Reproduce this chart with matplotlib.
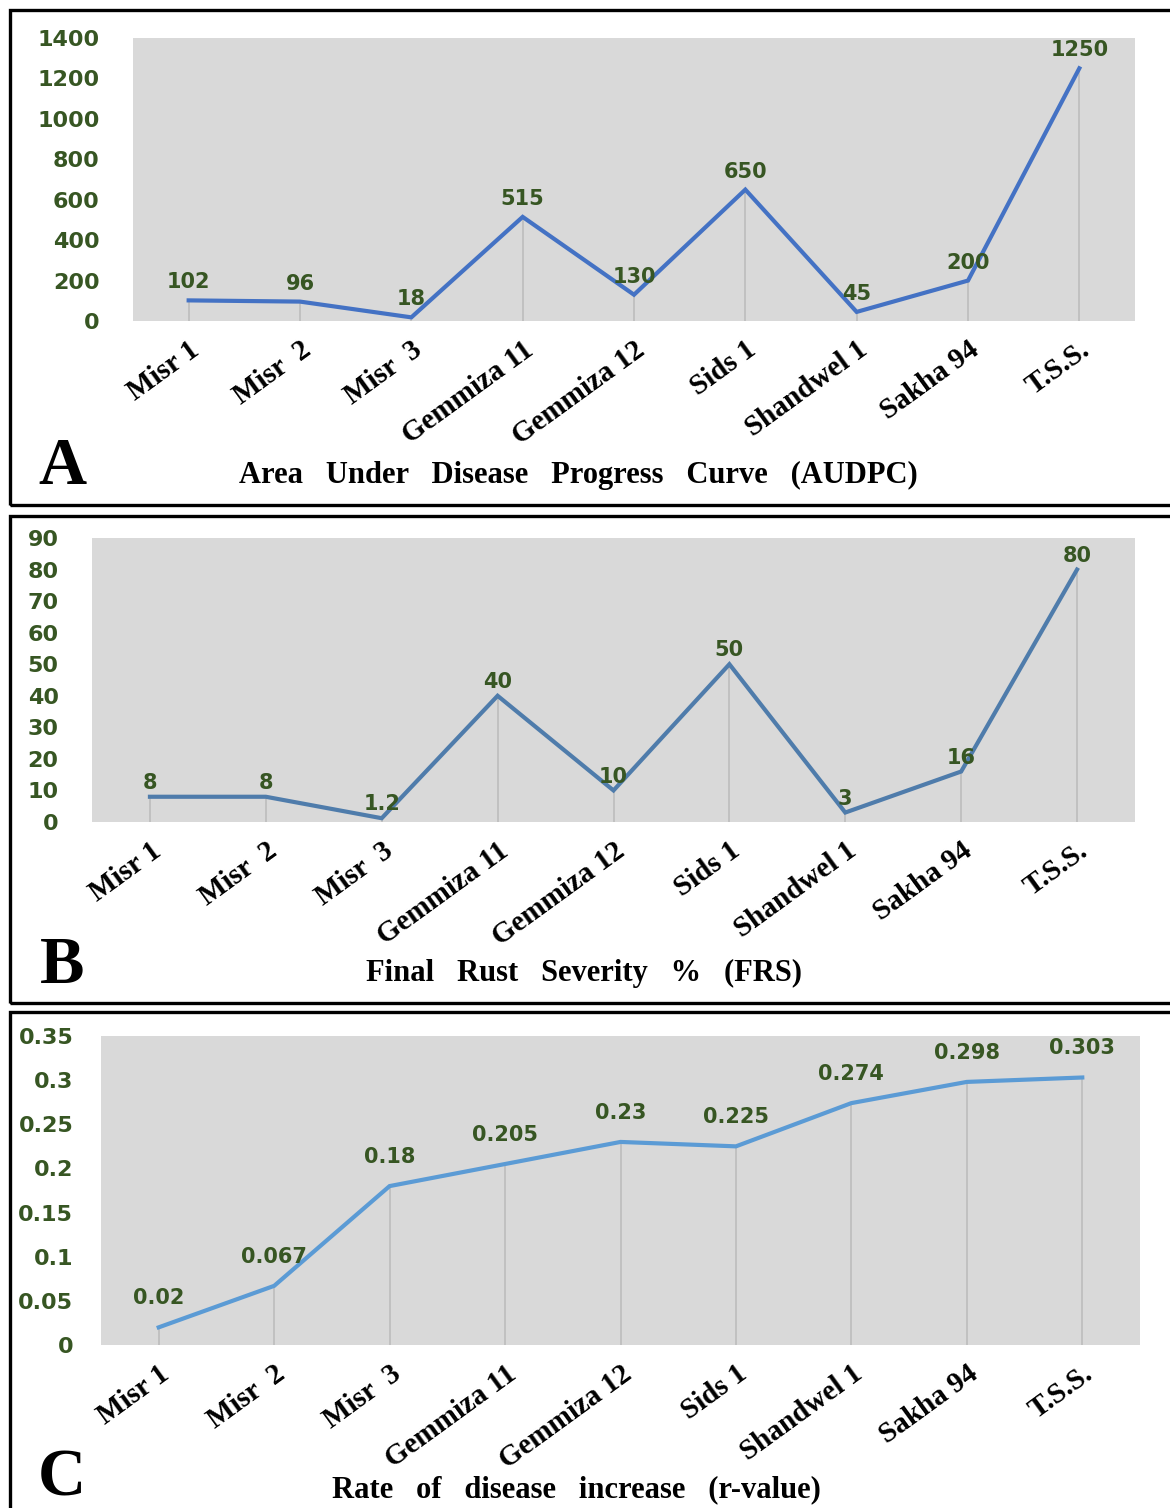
import matplotlib
matplotlib.use("Agg")
import matplotlib.pyplot as plt
from matplotlib.patches import Rectangle

W, H = 1170, 1508

cultivars = ["Misr 1", "Misr  2", "Misr  3", "Gemmiza 11", "Gemmiza 12",
             "Sids 1", "Shandwel 1", "Sakha 94", "T.S.S."]

audpc = [102, 96, 18, 515, 130, 650, 45, 200, 1250]
audpc_labels = ["102", "96", "18", "515", "130", "650", "45", "200", "1250"]
audpc_ticks = [0, 200, 400, 600, 800, 1000, 1200, 1400]

frs = [8, 8, 1.2, 40, 10, 50, 3, 16, 80]
frs_labels = ["8", "8", "1.2", "40", "10", "50", "3", "16", "80"]
frs_ticks = [0, 10, 20, 30, 40, 50, 60, 70, 80, 90]

rval = [0.02, 0.067, 0.18, 0.205, 0.23, 0.225, 0.274, 0.298, 0.303]
rval_labels = ["0.02", "0.067", "0.18", "0.205", "0.23", "0.225", "0.274", "0.298", "0.303"]
rval_ticks = [0, 0.05, 0.1, 0.15, 0.2, 0.25, 0.3, 0.35]
rval_tick_labels = ["0", "0.05", "0.1", "0.15", "0.2", "0.25", "0.3", "0.35"]

GREEN = "#375623"
GRAY_BG = "#d9d9d9"
SERIF = ["Liberation Serif", "DejaVu Serif"]


def px_axes(fig, left, top, right, bottom):
    return fig.add_axes([left / W, 1 - bottom / H, (right - left) / W, (bottom - top) / H])


def panel(fig, box, values, labels, ticks, tick_labels, ymax, color, lab_off, ypad):
    ax = px_axes(fig, *box)
    x = list(range(len(values)))
    ax.set_facecolor(GRAY_BG)
    ax.vlines(x, 0, values, color="#bfbfbf", lw=1.3, zorder=1)
    ax.plot(x, values, color=color, lw=3.0, solid_joinstyle="miter", zorder=2)
    for xi, v, t in zip(x, values, labels):
        ax.annotate(t, (xi, v), xytext=(0, lab_off), textcoords="offset points",
                    ha="center", va="center", color=GREEN, fontsize=15,
                    fontweight="bold", family="DejaVu Sans", zorder=3)
    ax.set_xlim(-0.5, len(values) - 0.5)
    ax.set_ylim(0, ymax)
    ax.set_yticks(ticks)
    ax.set_yticklabels(tick_labels, color=GREEN, fontsize=16, fontweight="bold")
    ax.set_xticks(x)
    ax.set_xticklabels(cultivars, family=SERIF, fontweight="bold", fontsize=21)
    plt.setp(ax.get_xticklabels(), rotation=36, ha="right", rotation_mode="anchor")
    ax.tick_params(axis="x", length=0, pad=11)
    ax.tick_params(axis="y", length=0, pad=ypad)
    for s in ax.spines.values():
        s.set_visible(False)
    return ax


fig = plt.figure(figsize=(W / 100, H / 100), dpi=100)

# panel frames
for top, bottom in [(10, 505), (516, 1003), (1012, 1515)]:
    fig.patches.append(Rectangle((10 / W, 1 - bottom / H), 1.2, (bottom - top) / H,
                                 transform=fig.transFigure, fill=False,
                                 edgecolor="black", lw=2.4))

panel(fig, (133, 38, 1135, 321), audpc, audpc_labels, audpc_ticks,
      [str(t) for t in audpc_ticks], 1400, "#4472c4", 13, 24)
panel(fig, (92, 538, 1135, 822), frs, frs_labels, frs_ticks,
      [str(t) for t in frs_ticks], 90, "#4f7cab", 10, 24)
panel(fig, (101, 1036, 1140, 1345), rval, rval_labels, rval_ticks,
      rval_tick_labels, 0.35, "#5b9bd5", 21, 20)

# panel letters and captions
for letter, y in [("A", 484), ("B", 983), ("C", 1496)]:
    fig.text(62 / W, 1 - y / H, letter, family=SERIF, fontweight="bold",
             fontsize=48, ha="center", va="baseline")

captions = [("Area   Under   Disease   Progress   Curve   (AUDPC)", 578, 483),
            ("Final   Rust   Severity   %   (FRS)", 584, 981),
            ("Rate   of   disease   increase   (r-value)", 576, 1497)]
for txt, x, y in captions:
    fig.text(x / W, 1 - y / H, txt, family=SERIF, fontweight="bold",
             fontsize=22, ha="center", va="baseline")

fig.savefig("out.png", dpi=100)
